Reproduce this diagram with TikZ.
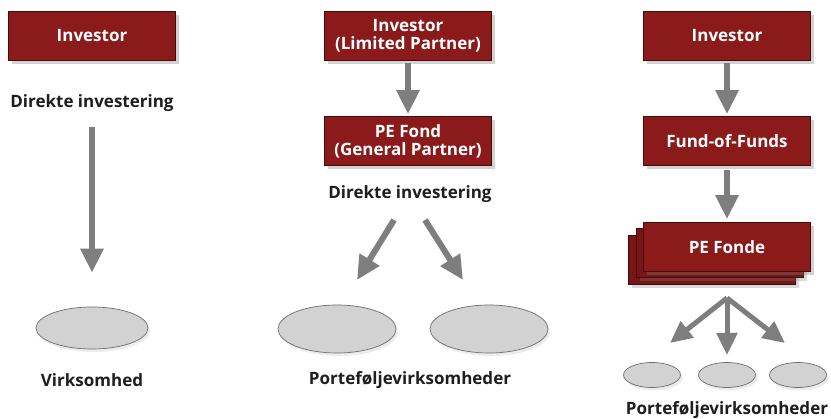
\documentclass[tikz,border=0pt]{standalone}
\usepackage{fontspec}
\setmainfont{Open Sans}
\usetikzlibrary{shapes.geometric,arrows.meta,shadows}
\definecolor{boxred}{HTML}{8B1A1A}
\definecolor{boxedge}{HTML}{4A0A0A}
\definecolor{arrgray}{HTML}{7E7E7E}
\definecolor{ellfill}{HTML}{D2D2D2}
\definecolor{elledge}{HTML}{6E6E6E}
\definecolor{txt}{HTML}{1E1E1E}
\tikzset{
  redbox/.style={draw=boxedge, line width=0.8pt, fill=boxred, minimum width=167pt, minimum height=49pt,
    text=white, font=\bfseries\fontsize{17}{18}\selectfont, align=center, inner sep=1pt,
    drop shadow={opacity=0.35, shadow xshift=3pt, shadow yshift=-4pt}},
  backbox/.style={draw=boxedge, line width=0.8pt, fill=boxred!85!black, minimum width=167pt, minimum height=49pt,
    drop shadow={opacity=0.3, shadow xshift=3pt, shadow yshift=-4pt}},
  lbl/.style={text=txt, font=\bfseries\fontsize{17}{18}\selectfont},
  oval/.style={ellipse, draw=elledge, line width=0.7pt, fill=ellfill,
    drop shadow={opacity=0.15, shadow xshift=2pt, shadow yshift=-3pt}},
  bigarrow/.style={draw=arrgray, line width=6pt, -{Triangle[width=22pt,length=24pt]}, fill=arrgray},
  bigarrowsm/.style={draw=arrgray, line width=5pt, -{Triangle[width=20pt,length=22pt]}, fill=arrgray}
}
\begin{document}
\begin{tikzpicture}[x=1pt,y=-1pt]
\useasboundingbox[fill=white] (0,0) rectangle (831,419);

% Left column
\node[redbox] (inv1) at (92,36) {Investor};
\node[lbl] (dir1) at (92,103) {Direkte investering};
\node[oval, minimum width=112pt, minimum height=42pt] (virk) at (92,328) {};
\node[lbl] (virklbl) at (92,380) {Virksomhed};
\draw[bigarrow, shorten <=12pt, shorten >=34pt] (dir1.south) -- (virk.north);

% Middle column
\node[redbox] (inv2) at (408,36) {Investor\\(Limited Partner)};
\node[redbox] (pef) at (408,141) {PE Fond\\(General Partner)};
\node[lbl] (dir2) at (410,194) {Direkte investering};
\node[oval, minimum width=118pt, minimum height=48pt] (pv1) at (337,329) {};
\node[oval, minimum width=118pt, minimum height=48pt] (pv2) at (489,329) {};
\node[lbl] (pvlbl) at (410,380) {Porteføljevirksomheder};
\draw[bigarrow, shorten <=2pt, shorten >=2pt] (inv2.south) -- (pef.north);
\coordinate (m1s) at (394,220);
\coordinate (m1t) at (357,280);
\coordinate (m2s) at (425,220);
\coordinate (m2t) at (463,280);
\draw[bigarrow] (m1s) -- (m1t);
\draw[bigarrow] (m2s) -- (m2t);

% Right column
\node[redbox] (inv3) at (727,36) {Investor};
\node[redbox] (fof) at (727,141) {Fund-of-Funds};
\node[backbox] (peb2) at (712,260) {};
\node[backbox] (peb1) at (720,253) {};
\node[redbox] (pe) at (727,247) {PE Fonde};
\draw[bigarrow, shorten <=2pt, shorten >=2pt] (inv3.south) -- (fof.north);
\draw[bigarrow, shorten <=4pt, shorten >=3pt] (fof.south) -- (pe.north);
\node[oval, minimum width=57pt, minimum height=25pt] (e1) at (652,375) {};
\node[oval, minimum width=57pt, minimum height=25pt] (e2) at (727,375) {};
\node[oval, minimum width=57pt, minimum height=25pt] (e3) at (798,375) {};
\node[lbl] (pvlbl2) at (727,410) {Porteføljevirksomheder};
\coordinate (fan) at (727,298);
\coordinate (t1) at (670,343);
\coordinate (t2) at (727,355);
\coordinate (t3) at (785,343);
\draw[bigarrowsm] (fan) -- (t1);
\draw[bigarrowsm] (fan) -- (t2);
\draw[bigarrowsm] (fan) -- (t3);
\end{tikzpicture}
\end{document}
